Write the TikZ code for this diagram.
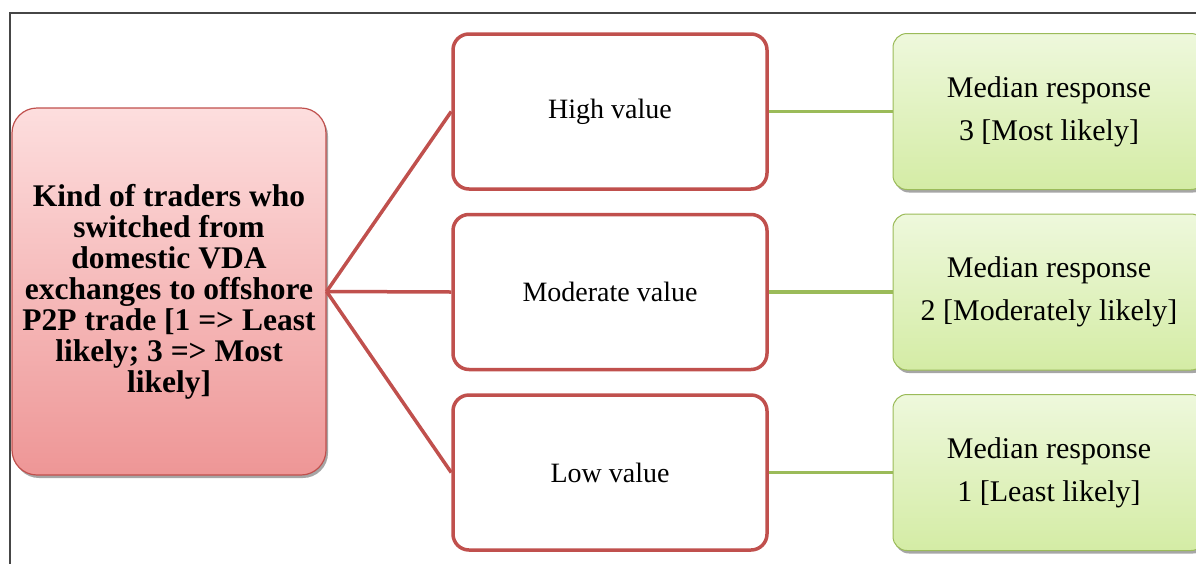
\documentclass[tikz,border=0pt]{standalone}
\usepackage{fontspec}
\setmainfont{Liberation Serif}
\usetikzlibrary{shadows}
\definecolor{redline}{RGB}{192,80,77}
\definecolor{greenline}{RGB}{155,187,89}
\definecolor{pinktop}{RGB}{253,222,222}
\definecolor{pinkbot}{RGB}{238,150,150}
\definecolor{greentop}{RGB}{238,248,220}
\definecolor{greenbot}{RGB}{212,236,165}
\definecolor{framec}{RGB}{70,70,70}
\begin{document}
\begin{tikzpicture}[x=1pt,y=-1pt,
  leftbox/.style={draw=redline, line width=1.2pt, rounded corners=25pt,
    top color=pinktop, bottom color=pinkbot, minimum width=314pt, minimum height=367pt,
    inner sep=0pt, align=center, font=\fontsize{31.5}{31}\selectfont\bfseries,
    drop shadow={shadow xshift=2pt, shadow yshift=-3pt, opacity=0.35, fill=black}},
  midbox/.style={draw=redline, line width=3.5pt, rounded corners=16pt, fill=white,
    minimum width=314pt, minimum height=155pt, inner sep=0pt, align=center,
    font=\fontsize{28}{40}\selectfont},
  rightbox/.style={draw=greenline, line width=1pt, rounded corners=14pt,
    top color=greentop, bottom color=greenbot, minimum width=312pt, minimum height=156pt,
    inner sep=0pt, align=center, font=\fontsize{30}{43}\selectfont,
    drop shadow={shadow xshift=2pt, shadow yshift=-3pt, opacity=0.35, fill=black}},
  redconn/.style={draw=redline, line width=3.5pt},
  greenconn/.style={draw=greenline, line width=3.5pt}]
\useasboundingbox (0,0) rectangle (1196,563);
\clip (0,0) rectangle (1196,563);
\draw[framec, line width=1.6pt] (10,570) -- (10,13) -- (1200,13);

\node[leftbox] (L) at (169,291.5) {Kind of traders who\\switched from\\domestic VDA\\exchanges to offshore\\P2P trade [1 => Least\\likely; 3 => Most\\likely]};

\node[midbox] (M1) at (610,111.5) {High value};
\node[midbox] (M2) at (610,292) {Moderate value};
\node[midbox] (M3) at (610,472.5) {Low value};

\node[rightbox] (R1) at (1049,111.5) {Median response\\3 [Most likely]};
\node[rightbox] (R2) at (1049,292) {Median response\\2 [Moderately likely]};
\node[rightbox] (R3) at (1049,472.5) {Median response\\1 [Least likely]};

\draw[redconn] (L.east) -- (M1.west);
\draw[redconn] (L.east) -- (M2.west);
\draw[redconn] (L.east) -- (M3.west);
\draw[greenconn] (M1.east) -- (R1.west);
\draw[greenconn] (M2.east) -- (R2.west);
\draw[greenconn] (M3.east) -- (R3.west);
\end{tikzpicture}
\end{document}
